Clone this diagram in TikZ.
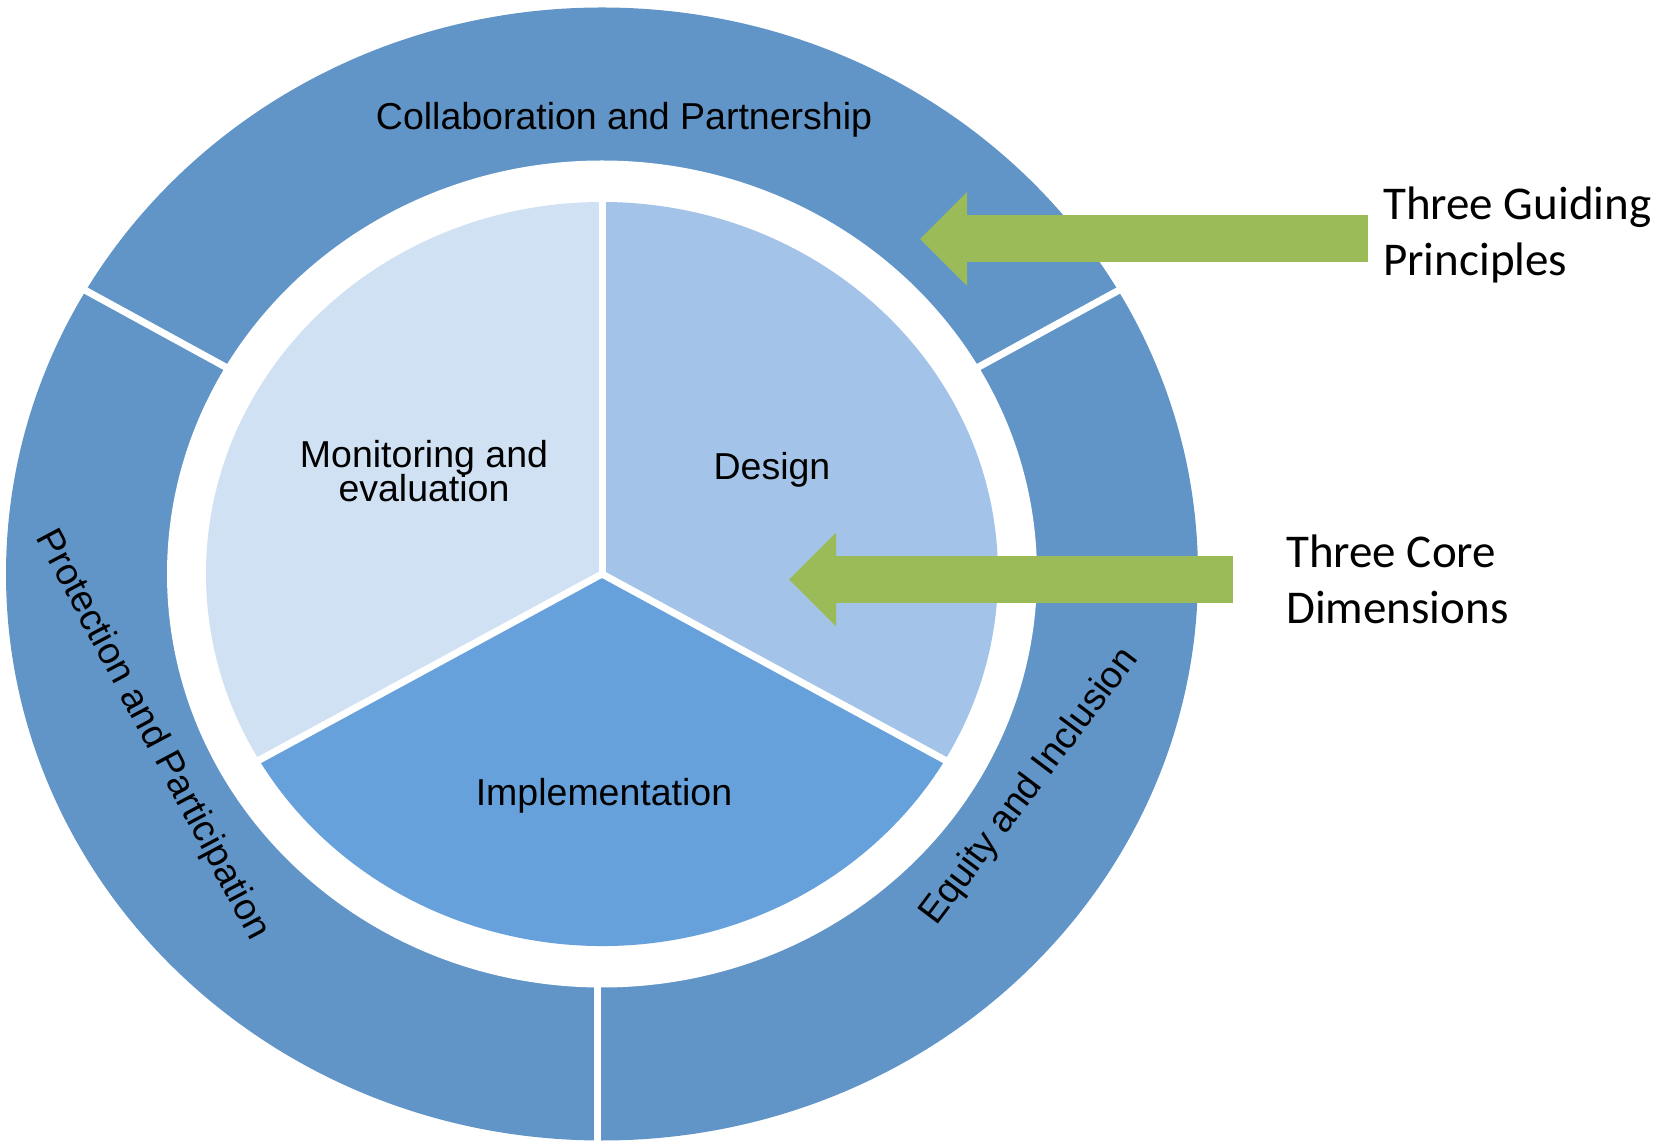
\documentclass[tikz,border=0pt]{standalone}
\usepackage{fontspec}
\usetikzlibrary{arrows.meta}
\newfontfamily\ringfont{Liberation Sans}
\newfontfamily\notefont{Carlito}
\definecolor{ringblue}{HTML}{6195C8}
\definecolor{monblue}{HTML}{D0E1F3}
\definecolor{desblue}{HTML}{A3C4E8}
\definecolor{impblue}{HTML}{66A1DC}
\definecolor{pointgreen}{HTML}{9BBB59}
\setlength{\lineskiplimit}{-40pt}
\begin{document}
\begin{tikzpicture}[x=1pt,y=1pt,
    lbl/.style={font=\ringfont\fontsize{37.5}{34}\selectfont,align=center,inner sep=0pt},
    note/.style={font=\notefont\fontsize{47}{56}\selectfont,align=left,inner sep=0pt,anchor=base west},
    gap/.style={white,line width=7pt},
    pointer/.style={pointgreen,line width=47pt,-{Triangle[length=47pt 0 0,width=94pt 0 0,line width=0pt]}}]
  \useasboundingbox (0,0) rectangle (1668,1141);
  \coordinate (c) at (602,567);

  \fill[ringblue] (c) ellipse [x radius=596,y radius=566.5];
  \fill[white] (c) ellipse [x radius=435,y radius=413.5];
  \foreach \a/\dx in {30/0,150/0,270/-5}
    \draw[gap] (c) ++(\dx,0) ++(\a:420 and 400) -- ++(\a:190 and 180);

  \fill[desblue] (c) -- ++(90:396 and 372) arc[start angle=90,end angle=-30,x radius=396,y radius=372] -- cycle;
  \fill[monblue] (c) -- ++(90:396 and 372) arc[start angle=90,end angle=210,x radius=396,y radius=372] -- cycle;
  \fill[impblue] (c) -- ++(210:396 and 372) arc[start angle=210,end angle=330,x radius=396,y radius=372] -- cycle;
  \foreach \a in {90,210,330}
    \draw[gap] (c) -- ++(\a:400 and 376);

  \node (collab)  [lbl,anchor=base] at (624,1011) {Collaboration and Partnership};
  \node (protect) [lbl,rotate=-62]  at (152,406)  {Protection and Participation};
  \node (equity)  [lbl,rotate=53]   at (1030,354) {Equity and Inclusion};
  \node (monitor) [lbl]             at (424,670)  {Monitoring and\\evaluation};
  \node (design)  [lbl,anchor=base] at (772,661)  {Design};
  \node (implem)  [lbl,anchor=base] at (604,335)  {Implementation};

  \node (guiding) [note] at (1383,865) {Three Guiding\\Principles};
  \node (core)    [note] at (1286,517) {Three Core\\Dimensions};

  \coordinate (gtip)  at (920,902);
  \coordinate (gtail) at (1368,902);
  \coordinate (ctip)  at (789,561.5);
  \coordinate (ctail) at (1233,561.5);
  \draw[pointer] (gtail) -- (gtip);
  \draw[pointer] (ctail) -- (ctip);
\end{tikzpicture}
\end{document}
